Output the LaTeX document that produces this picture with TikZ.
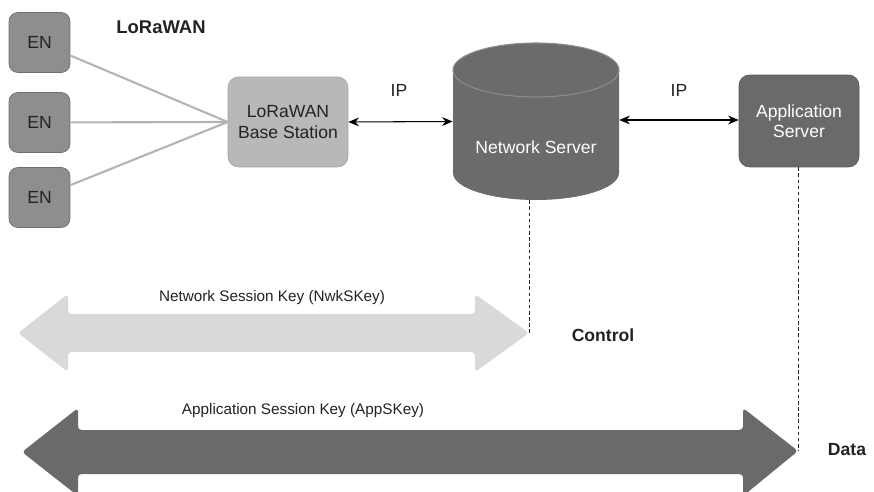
\documentclass[tikz,border=0pt]{standalone}
\usepackage{fontspec}
\setmainfont{Liberation Sans}
\usepackage{color}
\usepackage{tikz}
\usetikzlibrary{arrows.meta}

\definecolor{enGray}{HTML}{8E8E8E}
\definecolor{enLine}{HTML}{6E6E6E}
\definecolor{bsGray}{HTML}{B8B8BA}
\definecolor{bsLine}{HTML}{A4A4A4}
\definecolor{srvGray}{HTML}{6B6B6D}
\definecolor{srvEdge}{HTML}{8C8C8E}
\definecolor{spoke}{HTML}{B4B4B4}
\definecolor{nwkGray}{HTML}{D9D9DB}
\definecolor{appGray}{HTML}{6A6A6C}
\definecolor{txt}{HTML}{222222}

\begin{document}
\begin{tikzpicture}[x=0.02cm,y=-0.02cm,
	every node/.style={text=txt,font=\fontsize{10}{11.5}\selectfont},
	enbox/.style={shape=rectangle,rounded corners=5pt,draw=enLine,fill=enGray,
		minimum width=1.22cm,minimum height=1.2cm},
	srvbox/.style={shape=rectangle,rounded corners=6pt,align=center},
	iplink/.style={{Stealth[length=6pt,width=5pt]}-{Stealth[length=6pt,width=5pt]},line width=0.6pt,black},
	keylabel/.style={font=\fontsize{8.7}{10}\selectfont},
	tag/.style={font=\bfseries\fontsize{10}{12}\selectfont},
	drop/.style={dash pattern=on 2pt off 1.5pt,line width=0.5pt,txt}]
	\useasboundingbox (0,0) rectangle (874,492);
	\clip (0,0) rectangle (874,492);

	% end nodes and base station
	\node[enbox] (EN1) at (39.5,42.5) {EN};
	\node[enbox] (EN2) at (39.5,122.5) {EN};
	\node[enbox] (EN3) at (39.5,197.5) {EN};
	\node[tag,font=\bfseries\fontsize{10.5}{12}\selectfont] (LW) at (161,27) {LoRaWAN};
	\node[srvbox,draw=bsLine,fill=bsGray,minimum width=2.4cm,minimum height=1.8cm] (BS) at (288,122) {LoRaWAN\\Base Station};

	% network server drawn as a drum
	\node[minimum width=3.32cm,minimum height=3.14cm,text=white] (NS) at (536,121.5) {};
	\fill[srvGray] (453,70) -- (453,173) arc[start angle=180,end angle=0,x radius=83,y radius=27]
		-- (619,70) arc[start angle=0,end angle=-180,x radius=83,y radius=27] -- cycle;
	\draw[srvEdge,line width=0.6pt] (536,70) ellipse [x radius=83,y radius=27];
	\node[text=white] at (536,147) {Network Server};

	\node[srvbox,draw=appGray!85!black,fill=appGray,text=white,minimum width=2.4cm,minimum height=1.84cm] (AS) at (799,121) {Application\\Server};

	% radio links
	\path [spoke,line width=1.2pt](EN1) edge (BS.west);
	\path [spoke,line width=1.2pt](EN2) edge (BS.west);
	\path [spoke,line width=1.2pt](EN3) edge (BS.west);

	% backhaul
	\path [iplink](BS.east) edge (NS.west);
	\path [iplink](NS.east |- 0,120) edge (AS.west |- 0,120);
	\node (IP1) at (399,90) {IP};
	\node (IP2) at (679,90) {IP};

	% session keys
	\fill[nwkGray,rounded corners=2pt] (18,333) -- (68,294) -- (68,314) -- (475,314) -- (475,294)
		-- (529,333) -- (475,372) -- (475,352) -- (68,352) -- (68,372) -- cycle;
	\coordinate (NK) at (529,333);
	\node[keylabel] (NKL) at (272,298) {Network Session Key (NwkSKey)};
	\node[tag] (CT) at (603,335) {Control};

	\fill[appGray,rounded corners=2pt] (22,452) -- (78,408) -- (78,430) -- (743,430) -- (743,408)
		-- (798,451) -- (743,496) -- (743,474) -- (78,474) -- (78,496) -- cycle;
	\coordinate (AK) at (798,451);
	\node[keylabel] (AKL) at (303,411) {Application Session Key (AppSKey)};
	\node[tag] (DT) at (847,450) {Data};

	\draw[drop] (NK |- NS.south) -- (NK);
	\draw[drop] (AS.south -| AK) -- (AK);
\end{tikzpicture}
\end{document}
